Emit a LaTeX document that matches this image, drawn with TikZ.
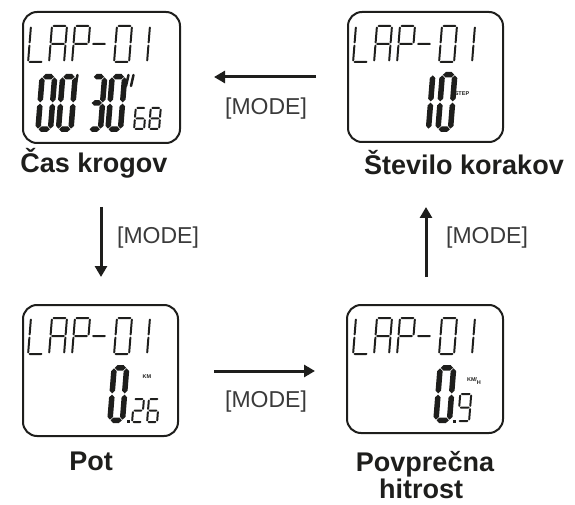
\documentclass[tikz,border=0pt]{standalone}
\usepackage{fontspec}
\setmainfont{Liberation Sans}
\usetikzlibrary{arrows.meta}
\definecolor{ink}{HTML}{1E1E1C}
\definecolor{modegray}{HTML}{3A3A3A}

% one seven-segment bar with pointed ends
\newcommand\lcdhseg[4]{\fill ({#1},{#3}) -- ({(#1)+(#4)/2},{(#3)+(#4)/2}) -- ({(#2)-(#4)/2},{(#3)+(#4)/2}) -- ({#2},{#3}) -- ({(#2)-(#4)/2},{(#3)-(#4)/2}) -- ({(#1)+(#4)/2},{(#3)-(#4)/2}) -- cycle;}
\newcommand\lcdvseg[4]{\fill ({#3},{#1}) -- ({(#3)+(#4)/2},{(#1)+(#4)/2}) -- ({(#3)+(#4)/2},{(#2)-(#4)/2}) -- ({#3},{#2}) -- ({(#3)-(#4)/2},{(#2)-(#4)/2}) -- ({(#3)-(#4)/2},{(#1)+(#4)/2}) -- cycle;}
\def\lcdsega{\lcdhseg{\lcdT/2+\lcdG}{\lcdW-\lcdT/2-\lcdG}{\lcdH-\lcdT/2}{\lcdT}}
\def\lcdsegg{\lcdhseg{\lcdT/2+\lcdG}{\lcdW-\lcdT/2-\lcdG}{\lcdH/2}{\lcdT}}
\def\lcdsegd{\lcdhseg{\lcdT/2+\lcdG}{\lcdW-\lcdT/2-\lcdG}{\lcdT/2}{\lcdT}}
\def\lcdsegf{\lcdvseg{\lcdH/2+\lcdG}{\lcdH-\lcdT/2-\lcdG}{\lcdT/2}{\lcdT}}
\def\lcdsege{\lcdvseg{\lcdT/2+\lcdG}{\lcdH/2-\lcdG}{\lcdT/2}{\lcdT}}
\def\lcdsegb{\lcdvseg{\lcdH/2+\lcdG}{\lcdH-\lcdT/2-\lcdG}{\lcdW-\lcdT/2}{\lcdT}}
\def\lcdsegc{\lcdvseg{\lcdT/2+\lcdG}{\lcdH/2-\lcdG}{\lcdW-\lcdT/2}{\lcdT}}

% \lcdchar{x}{y}{width}{height}{bar thickness}{segments}
\newcommand\lcdchar[6]{%
  \begin{scope}[shift={({#1},{#2})},xslant=0.08]
    \def\lcdW{#3}\def\lcdH{#4}\def\lcdT{#5}%
    \pgfmathsetmacro\lcdG{0.6}%
    \foreach \s in {#6}{\csname lcdseg\s\endcsname}
  \end{scope}}

% the "LAP-01" header line of a display
\newcommand\lapline[2]{%
  \lcdchar{#1+27}{#2}{17}{38}{2}{e,f,d}
  \lcdchar{#1+48}{#2}{17}{38}{2}{a,b,c,e,f,g}
  \lcdchar{#1+71}{#2}{17}{38}{2}{a,b,e,f,g}
  \lcdchar{#1+89}{#2}{17}{38}{2}{g}
  \lcdchar{#1+113}{#2}{17}{38}{2}{a,b,c,d,e,f}
  \lcdchar{#1+131}{#2}{17}{38}{2}{b,c}}

\begin{document}
\begin{tikzpicture}[x=1pt,y=1pt,
  screen/.style={draw=ink,line width=2pt,rounded corners=14pt,inner sep=0pt},
  caption/.style={font=\fontsize{27}{27}\selectfont\bfseries,text=ink,anchor=base,inner sep=0pt},
  modelabel/.style={font=\fontsize{23}{23}\selectfont,text=modegray,inner sep=0pt},
  unit/.style={font=\fontsize{5.5}{5.5}\selectfont\bfseries,text=ink,inner sep=0pt},
  flow/.style={draw=ink,line width=3pt,-{Triangle[length=11pt,width=12pt]}}]
\useasboundingbox (0,0) rectangle (575,504);

% display frames
\node[screen,minimum width=157pt,minimum height=131pt] (lap) at (101.5,426.5) {};
\node[screen,minimum width=155pt,minimum height=130pt] (steps) at (425.5,427) {};
\node[screen,minimum width=155pt,minimum height=131pt] (dist) at (100.5,133.5) {};
\node[screen,minimum width=156pt,minimum height=128pt] (speed) at (425,135) {};

\begin{scope}[color=ink]
  % lap time 00'30"68
  \lapline{0}{441}
  \lcdchar{35}{372}{18}{58}{5.5}{a,b,c,d,e,f}
  \lcdchar{55.5}{372}{18}{58}{5.5}{a,b,c,d,e,f}
  \lcdchar{86}{372}{17}{58}{5.5}{a,b,c,d,g}
  \lcdchar{105}{372}{18}{58}{5.5}{a,b,c,d,e,f}
  \draw[line width=2.5pt,line cap=round] (75,417) -- (77.5,429);
  \draw[line width=2.5pt,line cap=round] (126,418) -- (128.5,429);
  \draw[line width=2.5pt,line cap=round] (131,418) -- (133.5,429);
  \lcdchar{133}{374}{12}{23}{2}{a,c,d,e,f,g}
  \lcdchar{148}{374}{12}{23}{2}{a,b,c,d,e,f,g}

  % step count 10
  \lapline{325}{441}
  \lcdchar{413}{372}{18}{60}{5.5}{b,c}
  \lcdchar{435}{372}{18}{60}{5.5}{a,b,c,d,e,f}

  % distance 0.26
  \lapline{0}{149}
  \lcdchar{107}{81}{18}{58}{5.5}{a,b,c,d,e,f}
  \fill (127,81) rectangle (130,84);
  \lcdchar{131}{81}{12}{25}{2}{a,b,g,e,d}
  \lcdchar{146}{81}{12}{25}{2}{a,c,d,e,f,g}

  % average speed 0.9
  \lapline{325}{149}
  \lcdchar{433}{81}{19}{58}{5.5}{a,b,c,d,e,f}
  \fill (453,81) rectangle (456,84);
  \lcdchar{457}{82}{13}{29}{2}{a,b,c,d,f,g}
\end{scope}

\node[unit] (steplbl) at (462,410) {STEP};
\node[unit] (kmlbl) at (147,127) {KM};
\node[unit] (kmhlbl) at (474,123) {KM\hspace{-0.3pt}/\raisebox{-2.5pt}{H}};

% captions
\node[caption] (capLap) at (94,331) {Čas krogov};
\node[caption] (capSteps) at (464,329) {Število korakov};
\node[caption] (capDist) at (91,34) {Pot};
\node[caption] (capSpeed) at (425,33) {Povprečna};
\node[caption] (capSpeed2) at (421,6) {hitrost};

% MODE transitions
\coordinate (t1s) at (316,427); \coordinate (t1e) at (214,427);
\coordinate (t2s) at (101,297); \coordinate (t2e) at (101,227);
\coordinate (t3s) at (214,133); \coordinate (t3e) at (315,133);
\coordinate (t4s) at (426,227); \coordinate (t4e) at (426,297);
\draw[flow] (t1s) -- (t1e);
\draw[flow] (t2s) -- (t2e);
\draw[flow] (t3s) -- (t3e);
\draw[flow] (t4s) -- (t4e);
\node[modelabel] (m1) at (266,395) {[MODE]};
\node[modelabel] (m2) at (158,266) {[MODE]};
\node[modelabel] (m3) at (266,102) {[MODE]};
\node[modelabel] (m4) at (487,266) {[MODE]};
\end{tikzpicture}
\end{document}
